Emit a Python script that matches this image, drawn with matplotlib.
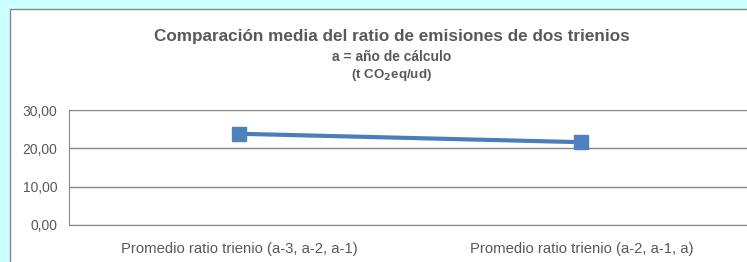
import matplotlib
matplotlib.use('Agg')
import matplotlib.pyplot as plt
from matplotlib.patches import Rectangle

# data
categories = ['Promedio ratio trienio (a-3, a-2, a-1)', 'Promedio ratio trienio (a-2, a-1, a)']
values = [23.8, 21.6]
yticks = [0, 10, 20, 30]
ylabels = ['0,00', '10,00', '20,00', '30,00']

W, H = 747, 262
plt.rcParams['font.family'] = ['Liberation Sans Narrow', 'Liberation Sans', 'DejaVu Sans']
gray = '#595959'

fig = plt.figure(figsize=(W / 100, H / 100), dpi=100)
fig.patch.set_facecolor('#ccffff')

# white chart box (runs off the right and bottom edges)
box = Rectangle((9.5 / W, -0.2), 1.2, 1 - 9.5 / H + 0.2, transform=fig.transFigure,
                facecolor='white', edgecolor='#888888', linewidth=1.0, zorder=-5)
fig.patches.append(box)

ax = fig.add_axes([68.5 / W, 1 - 225 / H, 684 / W, 115 / H])
ax.set_facecolor('none')
x = range(len(categories))
ax.plot(x, values, color='#4a7ebb', linewidth=3, marker='s', markersize=9.4,
        markerfacecolor='#4f81bd', markeredgecolor='#4f81bd', zorder=3, clip_on=False)
ax.set_xlim(-0.5, len(categories) - 0.5)
ax.set_ylim(0, 30)
ax.set_yticks(yticks)
ax.set_yticklabels(ylabels)
ax.set_xticks(list(x))
ax.set_xticklabels(categories)
ax.tick_params(axis='both', length=0, colors=gray)
ax.tick_params(axis='y', pad=8, labelsize=10)
ax.tick_params(axis='x', pad=12, labelsize=10.7)
ax.grid(axis='y', color='#888888', linewidth=1)
for s in ['top', 'right']:
    ax.spines[s].set_visible(False)
ax.spines['left'].set_color('#888888')
ax.spines['bottom'].set_color('#888888')

cx = 392 / W
fig.text(cx, 1 - 37 / H, 'Comparación media del ratio de emisiones de dos trienios',
         ha='center', va='center', fontsize=12.3, fontweight='bold', color=gray)
fig.text(cx, 1 - 57 / H, 'a = año de cálculo', ha='center', va='center',
         fontsize=9.9, fontweight='bold', color=gray)
fig.text(cx, 1 - 75 / H, '(t CO$_\\mathbf{2}$eq/ud)', ha='center', va='center',
         fontsize=9.6, fontweight='bold', color=gray)

fig.savefig('out.png', dpi=100, facecolor=fig.get_facecolor())
